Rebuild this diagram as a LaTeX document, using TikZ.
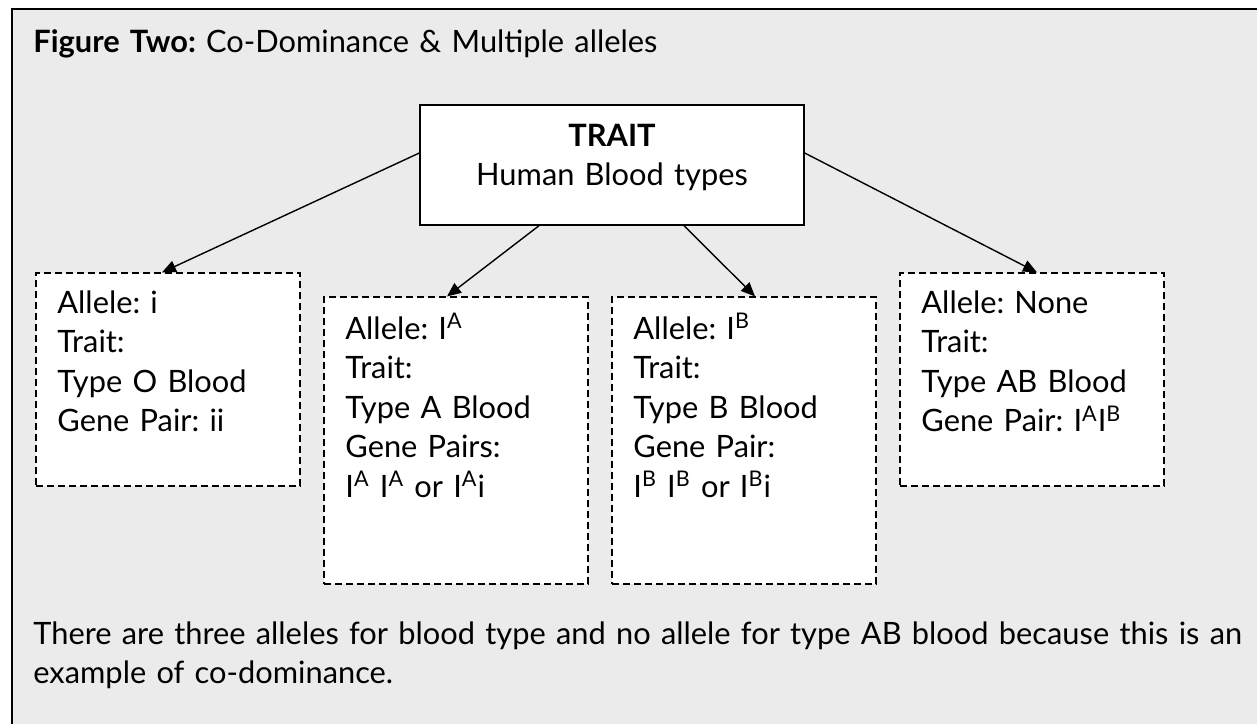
\documentclass[tikz,border=0pt]{standalone}
\usepackage{fontspec}
\setmainfont{Lato}
\usetikzlibrary{arrows.meta,positioning}
\definecolor{panelgray}{HTML}{EBEBEB}
\tikzset{traitbox/.style={draw,line width=0.7pt,fill=white,minimum width=192pt,minimum height=60pt,inner sep=0pt},
allelebox/.style={draw,dash pattern=on 3.5pt off 2pt,line width=0.6pt,fill=white,minimum width=132pt,inner sep=0pt},
boxtext/.style={font=\fontsize{15.4}{19.75}\selectfont\frenchspacing,text width=122pt,align=left,inner sep=0pt,anchor=base west}
}

\begin{document}
\begin{tikzpicture}[x=0.5pt,y=-0.5pt,>={Triangle[length=7pt,width=6pt]}]
       \useasboundingbox (0,0) rectangle (1257,723);
       \clip (0,0) rectangle (1257,723);
       \fill[white] (0,0) rectangle (1257,723);
       \draw[line width=1pt,fill=panelgray] (12,9) rectangle (1290,760);

       \node[boxtext,text width=600pt] (title) at (33,52) {\textbf{Figure Two:} Co-Dominance \& Multiple alleles};

       \node[traitbox] (trait) at (612,165) {};
       \node[boxtext,text width=180pt,align=center,anchor=base] (traittext) at (612,146) {\textbf{TRAIT}\\Human Blood types};

       \node[allelebox,minimum height=106.5pt] (boxO) at (168,379.5) {};
       \node[allelebox,minimum height=143.5pt] (boxA) at (456,440.5) {};
       \node[allelebox,minimum height=143.5pt] (boxB) at (744,440.5) {};
       \node[allelebox,minimum height=106.5pt] (boxAB) at (1032,379.5) {};

       \node[boxtext] (textO) at (57,313) {Allele: i\\Trait:\\Type O Blood\\Gene Pair: ii};
       \node[boxtext] (textA) at (345,339) {Allele: I\textsuperscript{A}\\Trait:\\Type A Blood\\Gene Pairs:\\I\textsuperscript{A} I\textsuperscript{A} or I\textsuperscript{A}i};
       \node[boxtext] (textB) at (633,339) {Allele: I\textsuperscript{B}\\Trait:\\Type B Blood\\Gene Pair:\\I\textsuperscript{B} I\textsuperscript{B} or I\textsuperscript{B}i};
       \node[boxtext] (textAB) at (921,313) {Allele: None\\Trait:\\Type AB Blood\\Gene Pair: I\textsuperscript{A}I\textsuperscript{B}};

       \path[->,line width=0.7pt] ([yshift=6pt]trait.west) edge ([xshift=-3pt]boxO.north)
           ([xshift=-36.5pt]trait.south) edge ([xshift=-4.5pt]boxA.north)
           ([xshift=36pt]trait.south) edge ([xshift=5.5pt]boxB.north)
           ([yshift=6pt]trait.east) edge ([xshift=2.5pt]boxAB.north);

       \node[boxtext,text width=640pt] (note) at (33,644) {There are three alleles for blood type and no allele for type AB blood because this is an\\example of co-dominance.};
\end{tikzpicture}
\end{document}
